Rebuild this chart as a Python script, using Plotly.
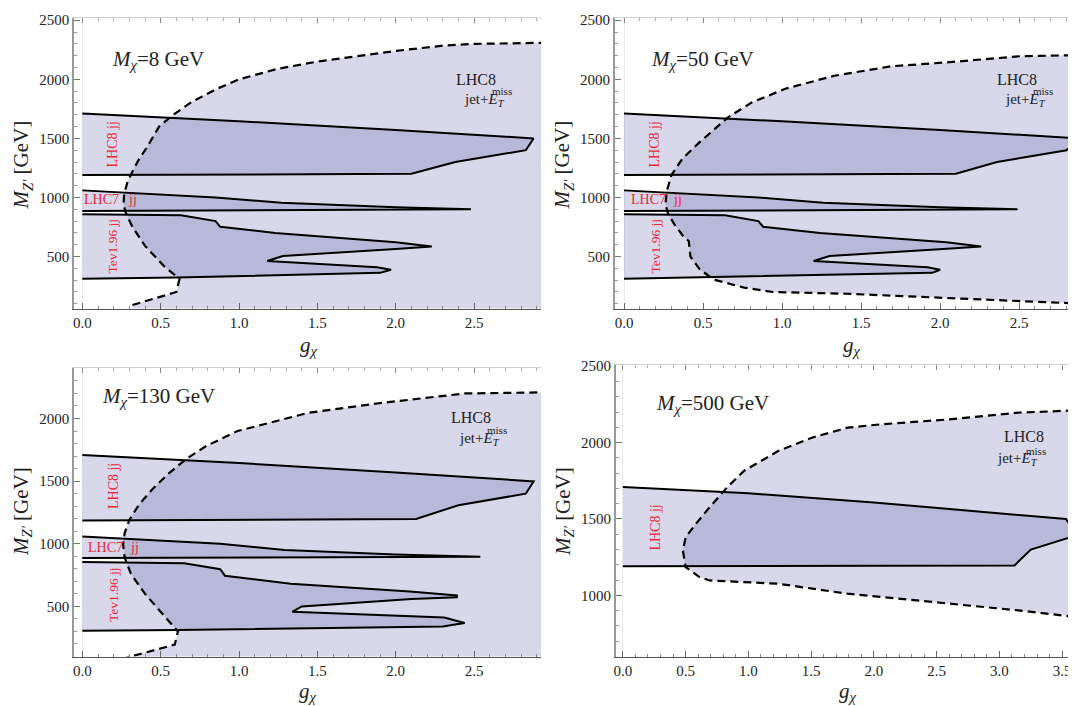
import plotly.graph_objects as go

W, H = 1076, 706          # page size of the reference
OFF = 8                   # default page margin of the html body
OFFY = 12                 # vertical correction (body margin + alignment)
FW, FH = W - OFF, H - OFF # figure size so that it fills the window
FONT = "Liberation Serif, Times New Roman, serif"
FILL = "rgba(38,38,140,0.18)"
RED = "#e8283c"
TXT = "#222"

# ---------------- data ----------------
panel_titles = ["8", "50", "130", "500"]

# Panel 1 : M_chi = 8 GeV
met1_g = [0.32, 0.60, 0.62, 0.52, 0.40, 0.32, 0.28, 0.263, 0.267, 0.29, 0.32, 0.36, 0.41, 0.49, 0.58,
          0.70, 0.86, 1.0, 1.25, 1.5, 2.0, 2.3, 2.5, 3.0]
met1_m = [90, 200, 310, 420, 590, 750, 860, 940, 1030, 1140, 1220, 1320, 1420, 1600, 1700,
          1810, 1920, 2000, 2090, 2150, 2240, 2285, 2300, 2310]
lhc8_1_g = [0, 1.0, 2.0, 2.88, 2.83, 2.38, 2.10, 0]
lhc8_1_m = [1710, 1645, 1572, 1500, 1400, 1300, 1200, 1190]
lhc7_1_g = [0, 0.85, 1.27, 2.0, 2.48, 0]
lhc7_1_m = [1060, 1000, 955, 918, 900, 885]
tev1_g = [0, 0.63, 0.85, 0.88, 1.23, 2.0, 2.23, 2.0, 1.28, 1.18, 1.88, 1.97, 1.90, 0.60, 0]
tev1_m = [857, 850, 800, 752, 700, 620, 585, 563, 505, 462, 410, 388, 362, 322, 312]

# Panel 2 : M_chi = 50 GeV
met2_g = [3.0, 2.06, 1.41, 0.94, 0.76, 0.57, 0.48, 0.42, 0.41, 0.37, 0.32, 0.28, 0.262, 0.27, 0.30,
          0.37, 0.48, 0.66, 0.81, 1.02, 1.33, 1.69, 2.06, 2.5, 3.0]
met2_m = [95, 145, 185, 200, 237, 304, 390, 500, 630, 680, 770, 857, 940, 1050, 1190,
          1330, 1470, 1680, 1805, 1920, 2030, 2110, 2145, 2195, 2208]
lhc8_2_g = [0, 1.0, 2.0, 2.88, 2.80, 2.36, 2.10, 0]
lhc8_2_m = [1710, 1645, 1572, 1500, 1400, 1300, 1200, 1190]
lhc7_2_g = [0, 0.85, 1.26, 2.0, 2.49, 0]
lhc7_2_m = [1060, 1000, 955, 918, 900, 885]
tev2_g = [0, 0.64, 0.85, 0.88, 1.24, 2.04, 2.26, 2.02, 1.30, 1.20, 1.92, 2.00, 1.95, 0.55, 0]
tev2_m = [857, 850, 800, 752, 700, 620, 585, 563, 505, 462, 410, 388, 362, 322, 312]

# Panel 3 : M_chi = 130 GeV
met3_g = [0.25, 0.59, 0.61, 0.53, 0.40, 0.31, 0.27, 0.26, 0.27, 0.30, 0.36, 0.45, 0.55, 0.66, 0.79,
          0.99, 1.14, 1.44, 1.88, 2.09, 2.44, 3.0]
met3_m = [80, 195, 300, 415, 600, 760, 890, 995, 1085, 1190, 1310, 1440, 1560, 1675, 1780,
          1900, 1950, 2045, 2120, 2150, 2200, 2210]
lhc8_3_g = [0, 1.0, 2.0, 2.88, 2.83, 2.40, 2.13, 0]
lhc8_3_m = [1708, 1645, 1570, 1498, 1400, 1308, 1198, 1186]
lhc7_3_g = [0, 0.88, 1.29, 2.0, 2.54, 0]
lhc7_3_m = [1058, 1000, 950, 915, 897, 887]
tev3_g = [0, 0.65, 0.88, 0.91, 1.33, 2.09, 2.39, 2.39, 2.10, 1.40, 1.34, 2.31, 2.44, 2.30, 0.61, 0]
tev3_m = [855, 845, 797, 745, 680, 618, 587, 573, 560, 500, 457, 412, 368, 340, 311, 306]

# Panel 4 : M_chi = 500 GeV
met4_g = [3.7, 3.15, 1.79, 1.24, 0.69, 0.61, 0.50, 0.478, 0.50, 0.58, 0.69, 0.83, 0.965, 1.24, 1.51,
          1.79, 2.06, 2.6, 3.15, 3.7]
met4_m = [850, 902, 1011, 1076, 1098, 1120, 1185, 1293, 1380, 1467, 1576, 1707, 1815, 1946, 2033,
          2098, 2120, 2152, 2196, 2214]
lhc8_4_g = [0, 1.0, 2.0, 3.0, 3.53, 3.62, 3.25, 3.12, 0]
lhc8_4_m = [1710, 1668, 1608, 1540, 1500, 1395, 1300, 1196, 1190]

# tick settings
x_major, x_minor = 0.5, 0.1
y_major, y_minor = 500, 100

# ---------------- layout geometry (page pixels) ----------------
panels = [
    dict(idx=1, met=(met1_g, met1_m), open_bottom=True,
         bands=[(lhc8_1_g, lhc8_1_m), (lhc7_1_g, lhc7_1_m), (tev1_g, tev1_m)],
         px=(72, 540), py=(15.5, 308.5), xr=[-0.054, 2.927], yr=[60, 2515]),
    dict(idx=2, met=(met2_g, met2_m), open_bottom=False,
         bands=[(lhc8_2_g, lhc8_2_m), (lhc7_2_g, lhc7_2_m), (tev2_g, tev2_m)],
         px=(614, 1076), py=(15.5, 308.5), xr=[-0.058, 2.86], yr=[60, 2515]),
    dict(idx=3, met=(met3_g, met3_m), open_bottom=True,
         bands=[(lhc8_3_g, lhc8_3_m), (lhc7_3_g, lhc7_3_m), (tev3_g, tev3_m)],
         px=(72, 540), py=(369, 660), xr=[-0.054, 2.927], yr=[100, 2400]),
    dict(idx=4, met=(met4_g, met4_m), open_bottom=False,
         bands=[(lhc8_4_g, lhc8_4_m)],
         px=(615, 1076), py=(366, 660), xr=[-0.056, 3.61], yr=[600, 2505]),
]


def fx(px):
    return (px - OFF) / FW


def fy(py):
    return 1 - (py - OFFY) / FH


fig = go.Figure()
layout = dict(width=FW, height=FH, margin=dict(l=0, r=0, t=0, b=0),
              paper_bgcolor="white", plot_bgcolor="white", showlegend=False)

tickfont = dict(family=FONT, size=15, color=TXT)

for p in panels:
    i = p["idx"]
    xs = "" if i == 1 else str(i)
    xa, ya = "x" + xs, "y" + xs
    g, m = p["met"]
    if p["open_bottom"]:
        fg = list(g) + [g[-1] + 1, g[-1] + 1, g[0]]
        fm = list(m) + [m[-1], 0, 0]
    else:
        fg, fm = list(g), list(m)
    fig.add_trace(go.Scatter(x=fg, y=fm, xaxis=xa, yaxis=ya, mode="lines", fill="toself",
                             fillcolor=FILL, line=dict(width=0), hoverinfo="skip"))
    for bg, bm in p["bands"]:
        fig.add_trace(go.Scatter(x=bg, y=bm, xaxis=xa, yaxis=ya, mode="lines", fill="toself",
                                 fillcolor=FILL, line=dict(width=0), hoverinfo="skip"))
    fig.add_trace(go.Scatter(x=g, y=m, xaxis=xa, yaxis=ya, mode="lines",
                             line=dict(color="black", width=2.2, dash="8px,5px"), hoverinfo="skip"))
    for bg, bm in p["bands"]:
        fig.add_trace(go.Scatter(x=bg, y=bm, xaxis=xa, yaxis=ya, mode="lines",
                                 line=dict(color="black", width=2), hoverinfo="skip"))

    xdom = [max(0, fx(p["px"][0])), min(1, fx(p["px"][1]))]
    ydom = [max(0, fy(p["py"][1])), min(1, fy(p["py"][0]))]
    layout["xaxis" + xs] = dict(
        domain=xdom, range=p["xr"], anchor=ya, showgrid=False,
        zeroline=True, zerolinecolor="#ececec", zerolinewidth=1,
        showline=True, linecolor="#555", linewidth=1,
        ticks="inside", ticklen=6, tickwidth=1, tickcolor="#666",
        tick0=0, dtick=x_major, tickformat=".1f", tickfont=tickfont,
        minor=dict(ticks="inside", ticklen=3, tick0=0, dtick=x_minor, tickcolor="#888", showgrid=False))
    layout["yaxis" + xs] = dict(
        domain=ydom, range=p["yr"], anchor=xa, showgrid=False, zeroline=False,
        showline=True, linecolor="#999", linewidth=1.5,
        ticks="inside", ticklen=6, tickwidth=1, tickcolor="#777",
        tick0=0, dtick=y_major, tickformat="d", tickfont=tickfont,
        minor=dict(ticks="inside", ticklen=3, tick0=0, dtick=y_minor, tickcolor="#999", showgrid=False))
    # top frame (ticks only, light line)
    top = "x" + str(i + 4)
    layout["xaxis" + str(i + 4)] = dict(
        overlaying=xa, anchor=ya, side="top", range=p["xr"], showgrid=False, zeroline=False,
        showline=True, linecolor="#d0d0d0", linewidth=1, showticklabels=False,
        ticks="inside", ticklen=5, tickcolor="#888", tick0=0, dtick=x_major,
        minor=dict(ticks="inside", ticklen=3, tick0=0, dtick=x_minor, tickcolor="#aaa"))
    fig.add_trace(go.Scatter(x=[None], y=[None], xaxis=top, yaxis=ya, mode="lines", hoverinfo="skip"))


def ann(text, px, py, size, color=TXT, angle=0, xanchor="center", yanchor="middle"):
    return dict(text=text, x=fx(px), y=fy(py), xref="paper", yref="paper", showarrow=False,
                font=dict(family=FONT, size=size, color=color), textangle=angle,
                xanchor=xanchor, yanchor=yanchor)


anns = []
# panel titles
title_pos = [(108, 57), (648, 57), (98, 398), (653, 405)]
for t, (x, y) in zip(panel_titles, title_pos):
    anns.append(ann("<i>M</i><sub><i>χ</i></sub>=%s GeV" % t, x, y, 21, xanchor="left"))

# LHC8 jet+MET labels
met_lbl = [((475, 77), (461, 98), (489, 89)),
           ((1017, 77), (1003, 98), (1031, 89)),
           ((470, 419), (456, 440), (484, 431)),
           ((1024, 438), (995, 461), (1024, 452))]
for (a, b, c) in met_lbl:
    anns.append(ann("LHC8", a[0], a[1], 16))
    anns.append(ann("jet+<i>E</i><sub><i>T</i></sub>", b[0], b[1], 15, xanchor="left"))
    anns.append(ann("miss", c[0], c[1], 11, xanchor="left"))

# red experiment labels
for (x, y) in [(111, 143), (654, 143), (111, 488), (655, 530)]:
    anns.append(ann("LHC8 jj", x, y, 14, color=RED, angle=-90))
for (x, y) in [(111, 245), (655, 245), (111, 597)]:
    anns.append(ann("Tev1.96 jj", x, y, 13.5, color=RED, angle=-90))
for (x1, x2, y) in [(80, 124, 198), (628, 670, 198), (84, 126, 550)]:
    anns.append(ann("LHC7", x1, y, 14, color=RED, xanchor="left"))
    anns.append(ann("jj", x2, y, 14, color=RED, xanchor="left"))

# axis titles
for (x, y) in [(21, 163), (563, 163), (20, 513), (563, 513)]:
    anns.append(ann("<i>M</i><sub><i>Z'</i></sub> [GeV]", x, y, 21, angle=-90))
for (x, y) in [(308, 346), (852, 346), (307, 696), (848, 696)]:
    anns.append(ann("<i>g</i><sub><i>χ</i></sub>", x, y, 21))

layout["annotations"] = anns
fig.update_layout(**layout)
fig.write_html("out.html")
